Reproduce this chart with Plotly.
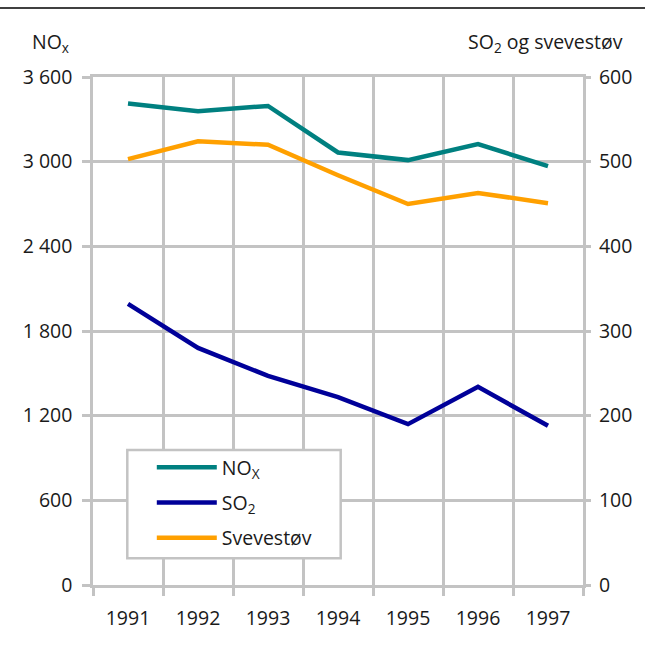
import plotly.graph_objects as go

# Emissions by year
years = ["1991", "1992", "1993", "1994", "1995", "1996", "1997"]
nox = [3412, 3358, 3395, 3065, 3011, 3124, 2968]
so2 = [332, 280, 247, 222, 190, 234, 188]
svevestov = [503, 524, 520, 484, 450, 463, 451]

# Axis ticks
left_tickvals = [0, 600, 1200, 1800, 2400, 3000, 3600]
left_ticktext = ["0", "600", "1 200", "1 800", "2 400", "3 000", "3 600"]
right_tickvals = [0, 100, 200, 300, 400, 500, 600]
right_ticktext = ["0", "100", "200", "300", "400", "500", "600"]

GRID = "#c3c3c3"
FONT = "Open Sans"
TEXT = "#1a1a1a"
SIZE = 19.5

fig = go.Figure()
fig.add_trace(go.Scatter(
    x=years, y=nox, name="NO<sub>X</sub>", mode="lines",
    line=dict(color="#008080", width=4.5), legendgroup="nox",
))
fig.add_trace(go.Scatter(
    x=years, y=so2, name="SO<sub>2</sub>", mode="lines", yaxis="y2",
    line=dict(color="#000099", width=4.5), legendgroup="so2",
))
fig.add_trace(go.Scatter(
    x=years, y=svevestov, name="Svevestøv", mode="lines", yaxis="y2",
    line=dict(color="#FFA000", width=4.5), legendgroup="svev",
))

fig.update_layout(
    width=645, height=646, autosize=False,
    margin=dict(l=93, r=62, t=77, b=61),
    paper_bgcolor="white", plot_bgcolor="white",
    font=dict(family=FONT, size=SIZE, color=TEXT),
    xaxis=dict(
        type="category", range=[-0.5, 6.5], tickson="boundaries",
        showgrid=True, gridcolor=GRID, gridwidth=2.5,
        ticks="outside", ticklen=8, tickwidth=2.5, tickcolor=GRID,
        showline=True, linecolor=GRID, linewidth=2.5, mirror=True,
        zeroline=False, ticklabelstandoff=14,
    ),
    yaxis=dict(
        range=[0, 3600], tickvals=left_tickvals, ticktext=left_ticktext,
        showgrid=True, gridcolor=GRID, gridwidth=2.5,
        ticks="outside", ticklen=8, tickwidth=2.5, tickcolor=GRID,
        showline=True, linecolor=GRID, linewidth=2.5, mirror=True,
        zeroline=False, ticklabelstandoff=6,
    ),
    yaxis2=dict(
        range=[0, 600], tickvals=right_tickvals, ticktext=right_ticktext,
        overlaying="y", side="right", showgrid=False,
        ticks="outside", ticklen=7, tickwidth=2.5, tickcolor=GRID,
        showline=False, zeroline=False, ticklabelstandoff=4,
    ),
    legend=dict(
        x=0.120, y=0.2697, xanchor="left", yanchor="top",
        bgcolor="rgba(0,0,0,0)", borderwidth=0,
        font=dict(family=FONT, size=SIZE, color=TEXT),
        itemwidth=60, tracegroupgap=7, traceorder="grouped",
    ),
    showlegend=True,
)

# Framed white panel behind the legend
fig.add_shape(
    type="rect", xref="paper", yref="paper", layer="above",
    x0=0.070, x1=0.5055, y0=0.0526, y1=0.2657,
    fillcolor="white", line=dict(color=GRID, width=2.5),
)

# Axis titles
fig.add_annotation(
    text="NO<sub>x</sub>", xref="paper", yref="paper",
    x=-0.129, y=1.068, xanchor="left", yanchor="middle",
    showarrow=False, font=dict(family=FONT, size=SIZE, color=TEXT),
)
fig.add_annotation(
    text="SO<sub>2</sub> og svevestøv", xref="paper", yref="paper",
    x=1.085, y=1.068, xanchor="right", yanchor="middle",
    showarrow=False, font=dict(family=FONT, size=SIZE, color=TEXT),
)

# Rule across the top
fig.add_shape(
    type="line", xref="paper", yref="paper",
    x0=-0.19, x1=1.13, y0=1.136, y1=1.136,
    line=dict(color="black", width=1.5),
)

fig.write_html("out.html")
